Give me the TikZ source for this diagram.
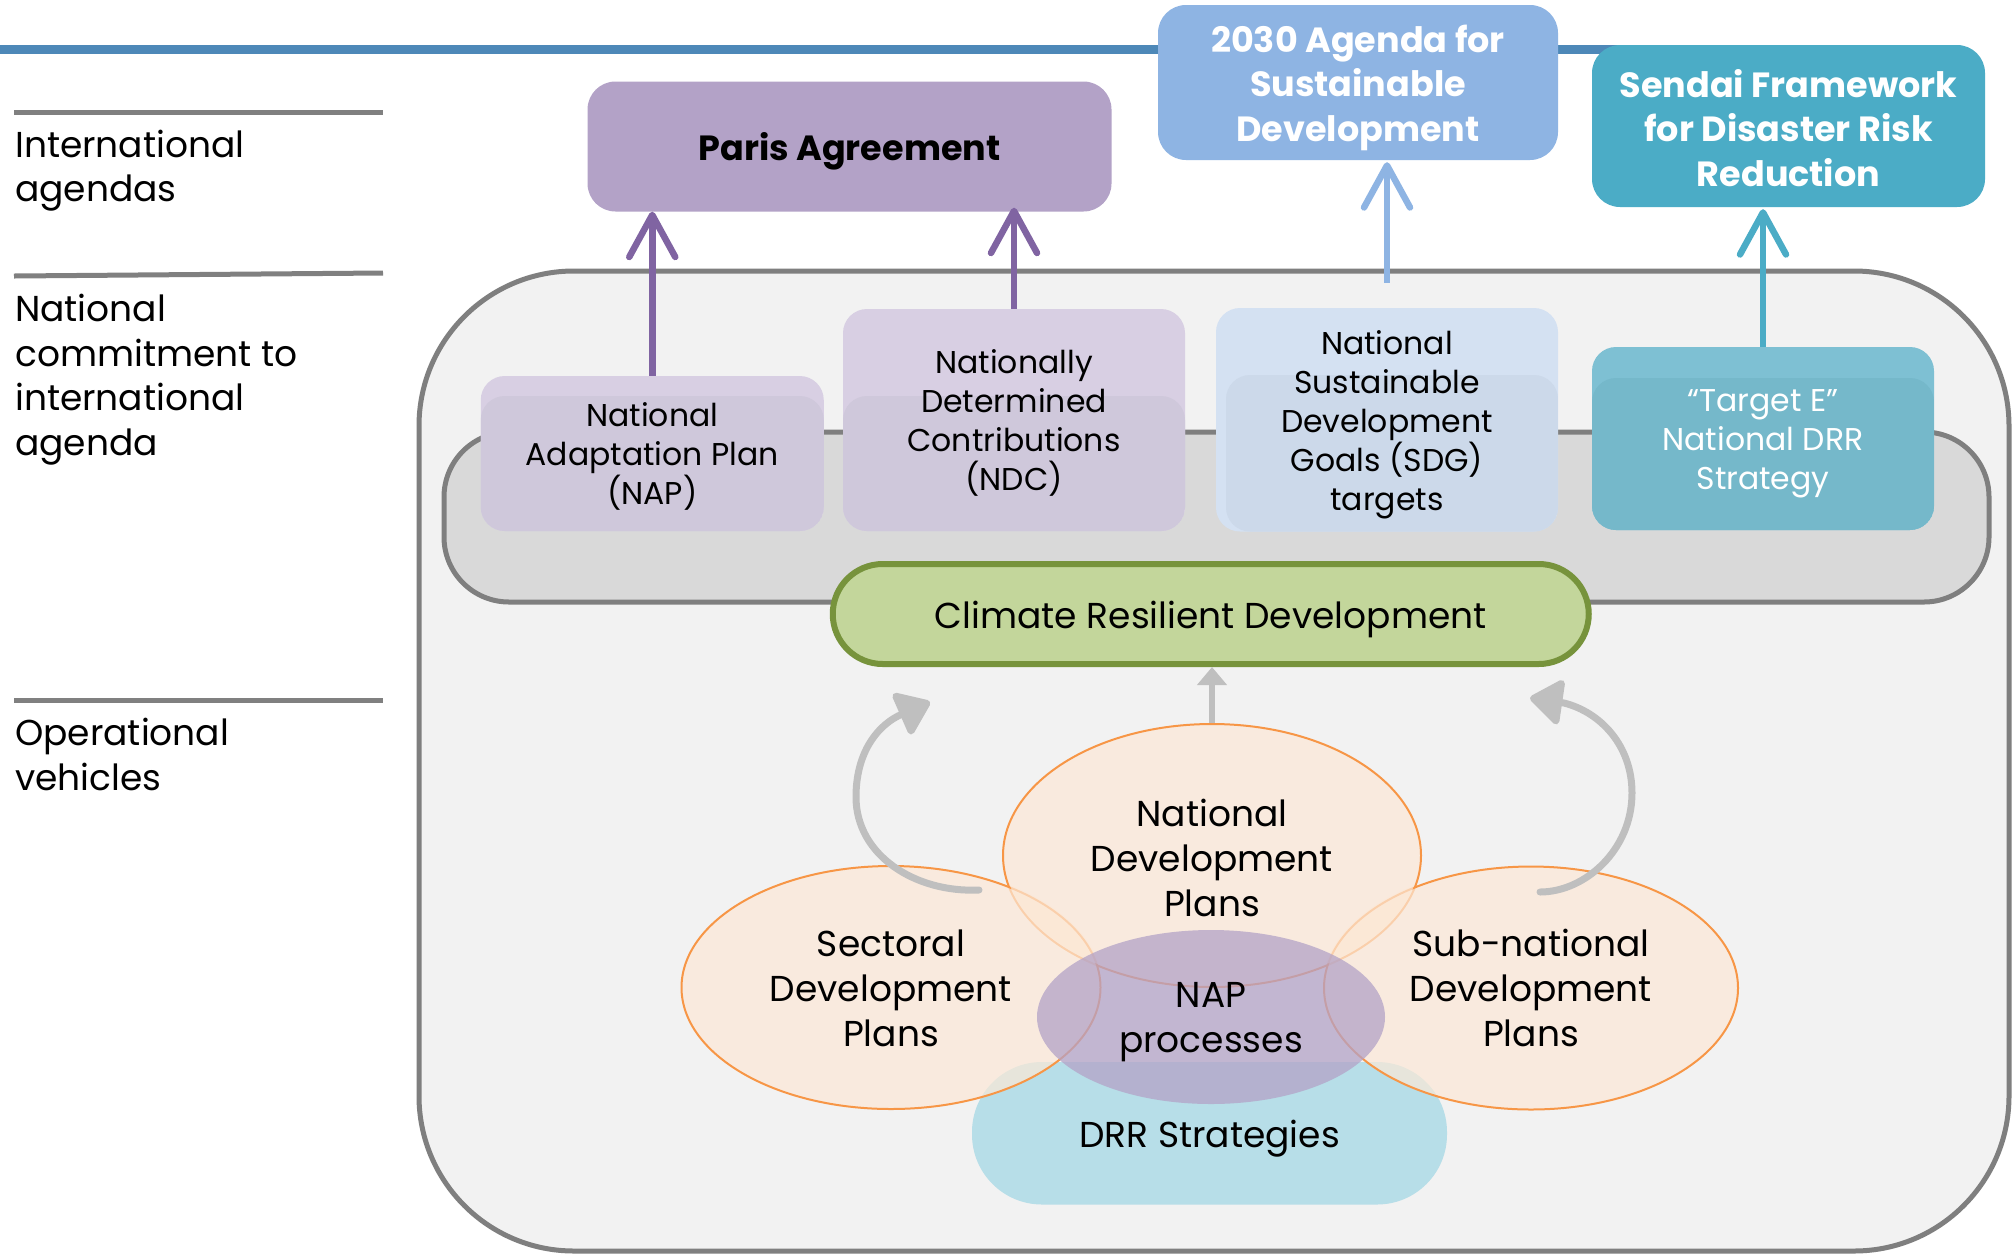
\documentclass[tikz,border=0pt]{standalone}
\usepackage{fontspec}
\setmainfont{Poppins}
\usetikzlibrary{arrows.meta,shapes.geometric}

\definecolor{topline}{HTML}{4D88B8}
\definecolor{sepline}{HTML}{808080}
\definecolor{framec}{HTML}{7F7F7F}
\definecolor{panelc}{HTML}{F2F2F2}
\definecolor{bandc}{HTML}{D9D9D9}
\definecolor{parisc}{HTML}{B3A2C7}
\definecolor{agendac}{HTML}{8EB4E3}
\definecolor{sendaic}{HTML}{4BACC6}
\definecolor{purplearrow}{HTML}{8064A2}
\definecolor{lilacA}{HTML}{D8CFE3}
\definecolor{lilacB}{HTML}{CFC8DB}
\definecolor{skyA}{HTML}{D4E1F2}
\definecolor{skyB}{HTML}{CCD9EA}
\definecolor{tealA}{HTML}{7EC0D3}
\definecolor{tealB}{HTML}{75B8CA}
\definecolor{greenc}{HTML}{C3D69B}
\definecolor{greenline}{HTML}{77933C}
\definecolor{peachc}{HTML}{FCE8D6}
\definecolor{orangeline}{HTML}{F79646}
\definecolor{drrc}{HTML}{B7DEE8}
\definecolor{loopc}{HTML}{BFBFBF}

\begin{document}
\begin{tikzpicture}[x=1pt,y=-1pt,
  rowlabel/.style={anchor=base west,align=left,inner sep=0pt,
    font=\fontsize{36}{44.5}\selectfont},
  sepstyle/.style={draw=sepline,line width=5pt},
  framestyle/.style={draw=framec,line width=5pt},
  agendabox/.style={rectangle,rounded corners=28pt,inner sep=0pt},
  agendatext/.style={align=center,inner sep=0pt,font=\fontsize{35}{44.5}\selectfont\bfseries},
  commitbox/.style={rectangle,rounded corners=24pt,inner sep=0pt},
  committext/.style={align=center,inner sep=0pt,font=\fontsize{31.5}{39}\selectfont},
  plantext/.style={align=center,inner sep=0pt,font=\fontsize{36}{45}\selectfont},
  vehicle/.style={ellipse,inner sep=0pt,draw=orangeline,line width=2pt,
    fill=peachc,fill opacity=0.7},
  uparrow/.style={line width=6.5pt,-{Straight Barb[length=42pt,width=46pt,round]}},
  looparrow/.style={draw=loopc,line width=7pt,line cap=round,
    -{Triangle[length=35pt,width=50pt,round]}},
]

\fill[white] (0,0) rectangle (2013,1254);
\useasboundingbox (0,0) rectangle (2013,1254);

% title rule
\draw[topline,line width=9pt] (0,49) -- (1667,49);

% row separators and row labels (anchored on the last baseline)
\draw[sepstyle] (14,112) -- (383,112);
\draw[sepstyle] (14,276) -- (383,273);
\draw[sepstyle] (14,700) -- (383,700);
\node[rowlabel] (rowintl) at (15,201.7) {International\\agendas};
\node[rowlabel] (rownat) at (15,455.4) {National\\commitment to\\international\\agenda};
\node[rowlabel] (rowops) at (15,790) {Operational\\vehicles};

% national frame and commitment band
\draw[framestyle,fill=panelc,rounded corners=155pt] (419,271) rectangle (2009,1251);
\draw[framestyle,fill=bandc,rounded corners=65pt] (444,432) rectangle (1989,602);

% international agendas
\node[agendabox,fill=parisc,minimum width=524pt,minimum height=130pt,
  label={[agendatext,text=black,yshift=-5pt]center:{Paris Agreement}}]
  (paris) at (849.5,146.5) {};
\node[agendabox,fill=agendac,minimum width=400pt,minimum height=155pt,
  label={[agendatext,text=white,yshift=-5pt]center:{2030 Agenda for\\Sustainable\\Development}}]
  (agenda) at (1358,82.5) {};
\node[agendabox,fill=sendaic,minimum width=393pt,minimum height=162pt,
  label={[agendatext,text=white,yshift=-2pt]center:{Sendai Framework\\for Disaster Risk\\Reduction}}]
  (sendai) at (1788.5,126) {};

% national commitments (two-tone boxes)
\node[commitbox,fill=lilacA,minimum width=343pt,minimum height=155pt,
  path picture={\fill[lilacB,rounded corners=24pt]
    ([yshift=-20pt]path picture bounding box.north west) rectangle (path picture bounding box.south east);},
  label={[committext,yshift=-3pt]center:{National\\Adaptation Plan\\(NAP)}}]
  (nap) at (652.25,453.5) {};
\node[commitbox,fill=lilacA,minimum width=342pt,minimum height=222pt,
  path picture={\fill[lilacB,rounded corners=24pt]
    ([yshift=-87pt]path picture bounding box.north west) rectangle (path picture bounding box.south east);},
  label={[committext,yshift=-3pt]center:{Nationally\\Determined\\Contributions\\(NDC)}}]
  (ndc) at (1014,420) {};
\node[commitbox,fill=skyA,minimum width=342pt,minimum height=223.5pt,
  path picture={\fill[skyB,rounded corners=24pt]
    ([yshift=-67pt,xshift=10pt]path picture bounding box.north west) rectangle (path picture bounding box.south east);},
  label={[committext,yshift=-5pt]center:{National\\Sustainable\\Development\\Goals (SDG)\\targets}}]
  (sdg) at (1387,419.75) {};
\node[commitbox,fill=tealA,minimum width=342pt,minimum height=183pt,
  path picture={\fill[tealB,rounded corners=24pt]
    ([yshift=-31pt]path picture bounding box.north west) rectangle (path picture bounding box.south east);},
  label={[committext,text=white,yshift=-5pt]center:{“Target E”\\National DRR\\Strategy}}]
  (target) at (1763,438.5) {};

% links to the international agendas
\draw[uparrow,draw=purplearrow] (nap.north) -- (nap.north |- paris.south);
\draw[uparrow,draw=purplearrow] (ndc.north) -- ([yshift=4pt]ndc.north |- paris.south);
\draw[uparrow,draw=agendac] ([yshift=25pt]sdg.north) -- ([yshift=-2pt]sdg.north |- agenda.south);
\draw[uparrow,draw=sendaic] (target.north) -- ([yshift=-2pt]target.north |- sendai.south);

% climate resilient development
\node[rectangle,rounded corners=50pt,draw=greenline,line width=6pt,fill=greenc,
  minimum width=756pt,minimum height=100pt,inner sep=0pt,
  label={[plantext,yshift=-5pt]center:{Climate Resilient Development}}]
  (crd) at (1210.75,614) {};

% operational vehicles
\node[rectangle,rounded corners=70pt,fill=drrc,minimum width=475pt,minimum height=142.5pt,
  inner sep=0pt,label={[plantext,yshift=-5pt]center:{DRR Strategies}}]
  (drr) at (1209.5,1133.25) {};
\node[vehicle,minimum width=418pt,minimum height=263pt,
  label={[plantext,yshift=-2.5pt]center:{National\\Development\\Plans}}]
  (ndp) at (1212,855.5) {};
\node[vehicle,minimum width=419pt,minimum height=243pt,
  label={[plantext,yshift=-1pt]center:{Sectoral\\Development\\Plans}}]
  (sect) at (891,987.5) {};
\node[vehicle,minimum width=414pt,minimum height=243pt,
  label={[plantext]center:{Sub-national\\Development\\Plans}}]
  (sub) at (1531,988) {};
% soften the rims that cross the national plans
\begin{scope}
  \clip (ndp.center) ellipse [x radius=207.5pt,y radius=130pt];
  \fill[peachc,fill opacity=0.7] (sect.center) ellipse [x radius=211.5pt,y radius=123.5pt];
  \fill[peachc,fill opacity=0.7] (sub.center) ellipse [x radius=209pt,y radius=123.5pt];
\end{scope}
\node[ellipse,inner sep=0pt,fill=parisc,fill opacity=0.75,
  minimum width=348pt,minimum height=174pt,
  label={[plantext,yshift=-5pt]center:{NAP\\processes}}]
  (napproc) at (1211,1017) {};

% feedback loops towards climate resilient development
\coordinate (lstart) at (979,890);
\coordinate (ltip) at (930,702);
\coordinate (rstart) at (1540,892);
\coordinate (rtip) at (1530,698);
\draw[looparrow] (lstart) .. controls (915,893) and (856,855) .. (856,797)
  .. controls (856,755) and (875,728) .. (898,716) -- (ltip);
\draw[looparrow] (rstart) .. controls (1585,892) and (1632,850) .. (1632,793)
  .. controls (1632,745) and (1600,712) .. (1564,703) -- (rtip);
\draw[draw=loopc,line width=6pt,-{Triangle[length=18pt,width=29pt]}]
  (ndp.north) -- (ndp.north |- crd.south);

\end{tikzpicture}
\end{document}
